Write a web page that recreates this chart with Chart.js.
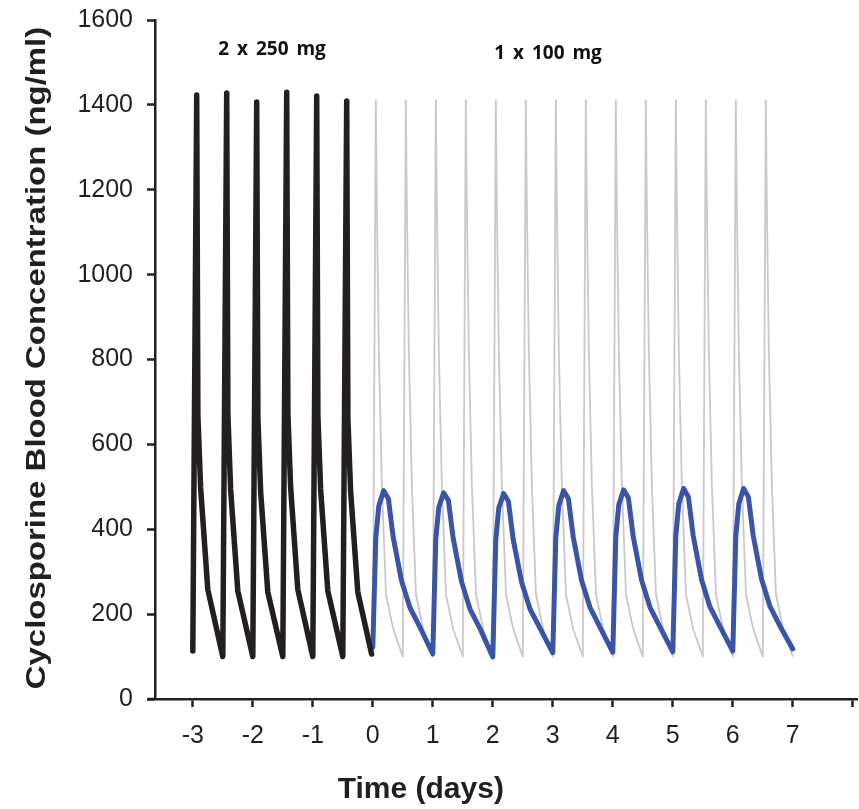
<!DOCTYPE html>
<html>
<head>
<meta charset="utf-8">
<script src="https://cdn.jsdelivr.net/npm/chart.js@4.4.1/dist/chart.umd.min.js"></script>
<style>
	body { margin: 0; background: #ffffff; }
	#canvas { display: block; }
</style>
</head>
<body>
<canvas id="canvas" width="859" height="809"></canvas>
<script>
// 2 x 250 mg (twice daily) before day 0
const tiempoNegro = [
	-3.000, -2.935, -2.915, -2.870, -2.750,
	-2.500, -2.435, -2.415, -2.370, -2.250,
	-2.000, -1.935, -1.915, -1.870, -1.750,
	-1.500, -1.435, -1.415, -1.370, -1.250,
	-1.000, -0.935, -0.915, -0.870, -0.750,
	-0.500, -0.435, -0.415, -0.370, -0.250,
	-0.020,
];
const concNegro = [
	113, 1423, 668, 498, 258,
	100, 1428, 670, 495, 255,
	100, 1407, 662, 490, 252,
	100, 1430, 672, 500, 258,
	100, 1421, 666, 495, 255,
	100, 1409, 660, 490, 252,
	106,
];

// 1 x 100 mg (once daily) from day 0
const tiempoAzul = [
	0.00, 0.05, 0.10, 0.18, 0.26, 0.34, 0.48, 0.62, 0.79,
	1.00, 1.05, 1.10, 1.18, 1.26, 1.34, 1.48, 1.62, 1.79,
	2.00, 2.05, 2.10, 2.18, 2.26, 2.34, 2.48, 2.62, 2.79,
	3.00, 3.05, 3.10, 3.18, 3.26, 3.34, 3.48, 3.62, 3.79,
	4.00, 4.05, 4.10, 4.18, 4.26, 4.34, 4.48, 4.62, 4.79,
	5.00, 5.05, 5.10, 5.18, 5.26, 5.34, 5.48, 5.62, 5.79,
	6.00, 6.05, 6.10, 6.18, 6.26, 6.34, 6.48, 6.62, 6.79,
	7.00,
];
const concAzul = [
	122, 380, 455, 491, 472, 381, 278, 215, 168,
	106, 378, 452, 486, 468, 378, 276, 212, 165,
	99, 376, 450, 484, 466, 376, 275, 212, 166,
	109, 380, 456, 491, 472, 382, 279, 216, 168,
	110, 382, 458, 493, 474, 383, 280, 216, 169,
	111, 384, 460, 496, 476, 385, 281, 217, 170,
	113, 384, 460, 496, 476, 385, 282, 218, 171,
	118,
];

// 2 x 250 mg continued (grey reference)
const tiempoGris = [
	0.00, 0.05, 0.067, 0.10, 0.15, 0.22, 0.34,
	0.50, 0.55, 0.567, 0.60, 0.65, 0.72, 0.84,
	1.00, 1.05, 1.067, 1.10, 1.15, 1.22, 1.34,
	1.50, 1.55, 1.567, 1.60, 1.65, 1.72, 1.84,
	2.00, 2.05, 2.067, 2.10, 2.15, 2.22, 2.34,
	2.50, 2.55, 2.567, 2.60, 2.65, 2.72, 2.84,
	3.00, 3.05, 3.067, 3.10, 3.15, 3.22, 3.34,
	3.50, 3.55, 3.567, 3.60, 3.65, 3.72, 3.84,
	4.00, 4.05, 4.067, 4.10, 4.15, 4.22, 4.34,
	4.50, 4.55, 4.567, 4.60, 4.65, 4.72, 4.84,
	5.00, 5.05, 5.067, 5.10, 5.15, 5.22, 5.34,
	5.50, 5.55, 5.567, 5.60, 5.65, 5.72, 5.84,
	6.00, 6.05, 6.067, 6.10, 6.15, 6.22, 6.34,
	6.50, 6.55, 6.567, 6.60, 6.65, 6.72, 6.84,
	7.00,
];
const concGris = [
	100, 1411, 1170, 825, 510, 245, 165,
	100, 1411, 1170, 825, 510, 245, 165,
	100, 1411, 1170, 825, 510, 245, 165,
	100, 1411, 1170, 825, 510, 245, 165,
	100, 1411, 1170, 825, 510, 245, 165,
	100, 1411, 1170, 825, 510, 245, 165,
	100, 1411, 1170, 825, 510, 245, 165,
	100, 1411, 1170, 825, 510, 245, 165,
	100, 1411, 1170, 825, 510, 245, 165,
	100, 1411, 1170, 825, 510, 245, 165,
	100, 1411, 1170, 825, 510, 245, 165,
	100, 1411, 1170, 825, 510, 245, 165,
	100, 1411, 1170, 825, 510, 245, 165,
	100, 1411, 1170, 825, 510, 245, 165,
	100,
];

const ticksX = [-3, -2, -1, 0, 1, 2, 3, 4, 5, 6, 7, 8];
const etiquetasX = ["-3", "-2", "-1", "0", "1", "2", "3", "4", "5", "6", "7", ""];

const notas = [
	{ texto: "2 x 250 mg", x: -1.68, y: 1530 },
	{ texto: "1 x 100 mg", x: 2.92, y: 1522 },
];

const tituloY = "Cyclosporine Blood Concentration (ng/ml)";
const tituloX = "Time (days)";

const NEGRO = "#231f20";

const puntos = (xs, ys) => xs.map((x, i) => ({ x: x, y: ys[i] }));

const textos = {
	id: "textos",
	afterDraw(chart) {
		const ctx = chart.ctx;
		const xs = chart.scales.x;
		const ys = chart.scales.y;
		const area = chart.chartArea;

		ctx.save();
		// x axis line runs a bit past the y axis
		ctx.strokeStyle = NEGRO;
		ctx.lineWidth = 2.5;
		ctx.beginPath();
		ctx.moveTo(area.left - 7, area.bottom);
		ctx.lineTo(area.left, area.bottom);
		ctx.stroke();

		ctx.fillStyle = "#111111";
		ctx.font = "bold 19px 'Open Sans'";
		ctx.textAlign = "center";
		ctx.textBaseline = "middle";
		ctx.wordSpacing = "3px";
		notas.forEach((n) => {
			ctx.fillText(n.texto, xs.getPixelForValue(n.x), ys.getPixelForValue(n.y));
		});
		ctx.wordSpacing = "0px";

		ctx.fillStyle = NEGRO;
		ctx.font = "bold 30px 'Liberation Sans', Arial";
		ctx.fillText(tituloX, xs.getPixelForValue(0.8), 790);

		ctx.translate(38, 358);
		ctx.rotate(-Math.PI / 2);
		ctx.scale(1.22, 1);
		ctx.font = "bold 27px 'Liberation Sans', Arial";
		ctx.fillText(tituloY, 0, 0);
		ctx.restore();
	},
};

const grafico = new Chart(document.getElementById("canvas"), {
	type: "line",
	data: {
		datasets: [
			{
				label: "2 x 250 mg",
				data: puntos(tiempoNegro, concNegro),
				borderColor: NEGRO,
				borderWidth: 5.5,
				borderJoinStyle: "round",
				borderCapStyle: "round",
				pointRadius: 0,
				tension: 0,
				order: 1,
			},
			{
				label: "1 x 100 mg",
				data: puntos(tiempoAzul, concAzul),
				borderColor: "#3a55a7",
				borderWidth: 5,
				borderJoinStyle: "round",
				borderCapStyle: "round",
				pointRadius: 0,
				tension: 0,
				order: 1,
			},
			{
				label: "2 x 250 mg (ref)",
				data: puntos(tiempoGris, concGris),
				borderColor: "#c9c9c9",
				borderWidth: 1.8,
				borderJoinStyle: "round",
				pointRadius: 0,
				tension: 0,
				order: 3,
			},
		],
	},
	options: {
		responsive: false,
		animation: false,
		devicePixelRatio: 1,
		layout: { padding: { top: 20, right: 2, left: 0, bottom: 0 } },
		plugins: {
			legend: { display: false },
			tooltip: { enabled: false },
		},
		scales: {
			x: {
				type: "linear",
				min: -3.63,
				max: 8.07,
				afterBuildTicks: (scale) => {
					scale.ticks = ticksX.map((v) => ({ value: v }));
				},
				afterFit: (scale) => {
					scale.height = 110;
					scale.paddingLeft = 0;
					scale.paddingRight = 0;
				},
				ticks: {
					autoSkip: false,
					maxRotation: 0,
					padding: 14,
					color: NEGRO,
					font: { size: 25, family: "'Liberation Sans', Arial" },
					callback: (value) => etiquetasX[ticksX.indexOf(value)],
				},
				grid: {
					drawOnChartArea: false,
					drawTicks: true,
					tickLength: 8,
					tickColor: NEGRO,
					tickWidth: 2.5,
				},
				border: { color: NEGRO, width: 2.5 },
			},
			y: {
				min: 0,
				max: 1600,
				afterFit: (scale) => {
					scale.width = 155;
					scale.paddingTop = 0;
					scale.paddingBottom = 0;
				},
				ticks: {
					stepSize: 200,
					padding: 14,
					color: NEGRO,
					font: { size: 25, family: "'Liberation Sans', Arial" },
					callback: (value) => String(value),
				},
				grid: {
					drawOnChartArea: false,
					drawTicks: true,
					tickLength: 8,
					tickColor: NEGRO,
					tickWidth: 2.5,
				},
				border: { color: NEGRO, width: 2.5 },
			},
		},
	},
	plugins: [textos],
});
</script>
</body>
</html>
